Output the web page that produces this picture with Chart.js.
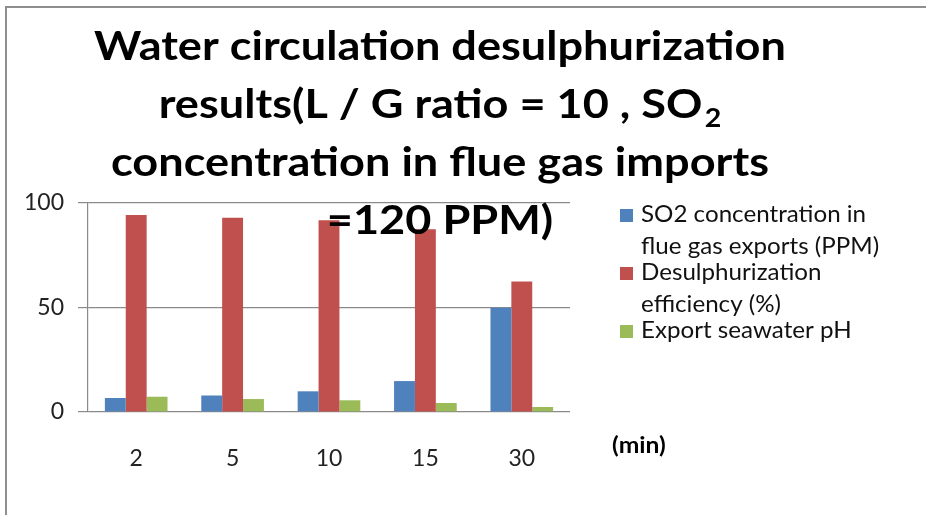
<!DOCTYPE html>
<html>
<head>
<meta charset="utf-8">
<script src="https://cdn.jsdelivr.net/npm/chart.js@4.4.1/dist/chart.umd.min.js"></script>
<style>
  html, body { margin: 0; padding: 0; background: #fff; }
  #wrap { width: 926px; height: 515px; position: relative; }
</style>
</head>
<body>
<div id="wrap"><canvas id="c" width="926" height="515"></canvas></div>
<script>
/* data */
const categories = ["2", "5", "10", "15", "30"];
const so2Exports = [6.7, 7.9, 9.9, 14.8, 49.9];
const efficiency = [94.3, 93.0, 91.7, 87.4, 62.5];
const seawaterPh = [7.3, 6.2, 5.6, 4.3, 2.4];
const yTicks = [0, 50, 100];

const seriesLabels = [
    ["SO2 concentration in", "flue gas exports (PPM)"],
    ["Desulphurization", "efficiency (%)"],
    ["Export seawater pH"]
];
const seriesColors = ["#4F81BD", "#C0504D", "#9BBB59"];

const titleLines = [
    "Water circulation desulphurization",
    "results(L / G ratio = 10 , SO\u2082",
    "concentration in flue gas imports",
    "=120 PPM)"
];
const unitLabel = "(min)";

/* draws the frame, title, legend and unit text */
const decorPlugin = {
    id: "decor",
    beforeDraw(chart) {
        const ctx = chart.ctx;
        ctx.save();
        ctx.fillStyle = "#fff";
        ctx.fillRect(0, 0, chart.width, chart.height);
        ctx.strokeStyle = "#8e8e8e";
        ctx.lineWidth = 2;
        ctx.beginPath();
        ctx.moveTo(6, chart.height);
        ctx.lineTo(6, 7);
        ctx.lineTo(chart.width, 7);
        ctx.stroke();
        ctx.restore();
    },
    afterDatasetsDraw(chart) {
        const ctx = chart.ctx;
        const sx = 1.1;
        const cx = 440;

        /* title, stretched a little so Lato gets the Calibri width */
        ctx.save();
        ctx.fillStyle = "#000";
        ctx.textBaseline = "alphabetic";
        titleLines.forEach((line, i) => {
            const y = 60 + i * 58;
            const parts = line.split("\u2082");
            ctx.font = "bold 41px Lato";
            let w = ctx.measureText(parts[0]).width;
            let subW = 0;
            if (parts.length > 1) {
                ctx.font = "bold 26px Lato";
                subW = ctx.measureText("2").width + 2;
            }
            const total = (w + subW) * sx;
            let x = cx - total / 2;
            ctx.save();
            ctx.translate(x, y);
            ctx.scale(sx, 1);
            ctx.font = "bold 41px Lato";
            ctx.fillText(parts[0], 0, 0);
            if (parts.length > 1) {
                ctx.font = "bold 26px Lato";
                ctx.fillText("2", w + 2, 9);
            }
            ctx.restore();
        });
        ctx.restore();

        /* legend */
        ctx.save();
        ctx.textBaseline = "middle";
        ctx.font = "23px Lato";
        let y = 215;
        seriesLabels.forEach((lines, i) => {
            ctx.fillStyle = seriesColors[i];
            ctx.fillRect(620, y - 6, 13, 13);
            ctx.fillStyle = "#111";
            lines.forEach((t, j) => {
                ctx.save();
                ctx.translate(641, y + j * 32);
                ctx.scale(1.05, 1);
                ctx.fillText(t, 0, 0);
                ctx.restore();
            });
            y += lines.length > 1 ? 58 : 32;
        });

        /* unit label */
        ctx.font = "bold 22px Lato";
        ctx.fillStyle = "#000";
        ctx.save();
        ctx.translate(612, 446);
        ctx.scale(1.12, 1);
        ctx.fillText(unitLabel, 0, 0);
        ctx.restore();
        ctx.restore();
    }
};

const datasets = [so2Exports, efficiency, seawaterPh].map((vals, i) => ({
    label: seriesLabels[i].join(" "),
    data: vals,
    backgroundColor: seriesColors[i],
    borderWidth: 0,
    categoryPercentage: 0.65,
    barPercentage: 1.0
}));

new Chart(document.getElementById("c"), {
    type: "bar",
    data: { labels: categories, datasets: datasets },
    plugins: [decorPlugin],
    options: {
        responsive: false,
        animation: false,
        layout: { padding: { left: 0, right: 356, top: 203, bottom: 0 } },
        plugins: {
            legend: { display: false },
            title: { display: false },
            tooltip: { enabled: false }
        },
        scales: {
            x: {
                grid: { display: false, drawTicks: false },
                border: { display: false },
                ticks: { color: "#222", font: { family: "Lato", size: 23 }, padding: 33 },
                afterFit(scale) { scale.height = 103; }
            },
            y: {
                min: 0,
                max: 100,
                afterBuildTicks(scale) { scale.ticks = yTicks.map(v => ({ value: v })); },
                grid: { color: "#8a8a8a", lineWidth: 1.2, tickLength: 10 },
                border: { display: true, color: "#8a8a8a", width: 1.2 },
                ticks: { color: "#222", font: { family: "Lato", size: 23 }, padding: 14 },
                afterFit(scale) { scale.width = 88; }
            }
        }
    }
});
</script>
</body>
</html>
